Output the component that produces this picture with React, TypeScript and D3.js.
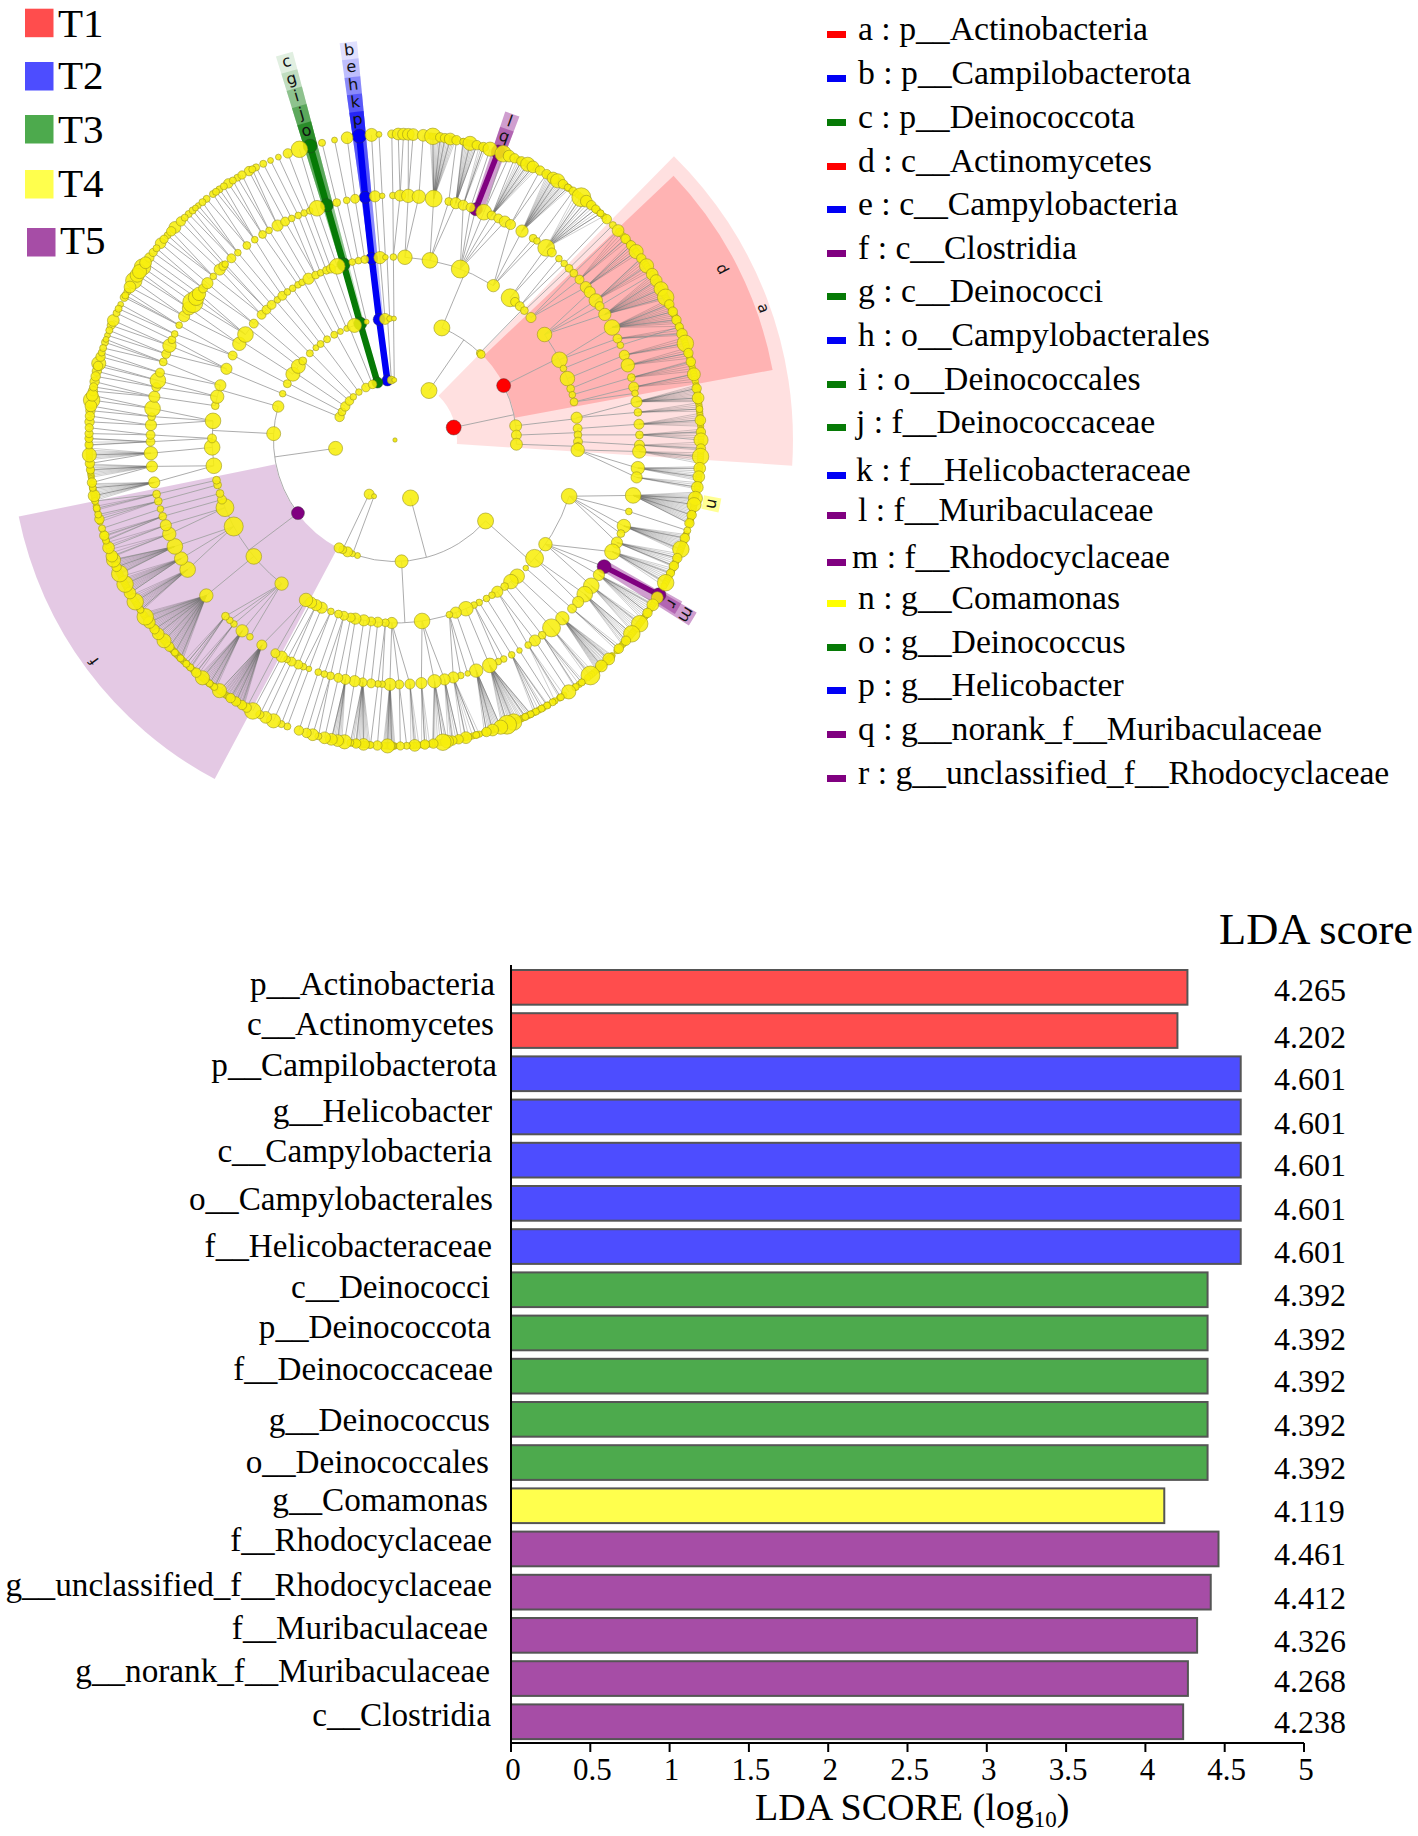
import React from "react";
import * as d3 from "d3";

// ---------- bar chart data ----------
const categories = ["p__Actinobacteria","c__Actinomycetes","p__Campilobacterota","g__Helicobacter","c__Campylobacteria","o__Campylobacterales","f__Helicobacteraceae","c__Deinococci","p__Deinococcota","f__Deinococcaceae","g__Deinococcus","o__Deinococcales","g__Comamonas","f__Rhodocyclaceae","g__unclassified_f__Rhodocyclaceae","f__Muribaculaceae","g__norank_f__Muribaculaceae","c__Clostridia"];
const scores = [4.265,4.202,4.601,4.601,4.601,4.601,4.601,4.392,4.392,4.392,4.392,4.392,4.119,4.461,4.412,4.326,4.268,4.238];
const groupsOfBars = ["T1","T1","T2","T2","T2","T2","T2","T3","T3","T3","T3","T3","T4","T5","T5","T5","T5","T5"];
const treatments = ["T1","T2","T3","T4","T5"];
const xTicks = [0,0.5,1,1.5,2,2.5,3,3.5,4,4.5,5];
const legendEntries = ["a : p__Actinobacteria","b : p__Campilobacterota","c : p__Deinococcota","d : c__Actinomycetes","e : c__Campylobacteria","f : c__Clostridia","g : c__Deinococci","h : o__Campylobacterales","i : o__Deinococcales","j : f__Deinococcaceae","k : f__Helicobacteraceae","l : f__Muribaculaceae","m : f__Rhodocyclaceae","n : g__Comamonas","o : g__Deinococcus","p : g__Helicobacter","q : g__norank_f__Muribaculaceae","r : g__unclassified_f__Rhodocyclaceae"];
const legendGroups = ["T1","T2","T3","T1","T2","T5","T3","T2","T3","T3","T2","T5","T5","T4","T3","T2","T5","T5"];

// ---------- cladogram data: [angle clockwise from north, node radius, parent angle?] ----------
const phyla: number[][] = [[292.6,4.7],[298,4],[304,4.7],[310.6,4.3],[316,3.3],[323,3.3],[331,4.3],[338,4.3],[343,5.5],[352.7,5.5],[356.5,4],[359.3,2.5],[34.5,8],[78,7.5],[165,8],[205.5,5],[200.4,2.5],[262,7]];
const classes: number[][] = [[22.7,8,34.5],[44.3,3.5,34.5],[45.2,4,34.5],[63.4,7,78],[83.3,6,78],[87.7,5,78],[92,6,78],[131.8,8,165],[176.9,6.5,165],[198,3,165],[200.5,3,200.4],[203,5,205.5],[205.5,4,205.5],[207.4,5,205.5],[233,6.5,262],[273,7,262],[286,5.7,262],[292.4,3.3],[297.6,4],[302.8,7],[307.3,7],[310.6,4],[315.5,3.5],[319.4,3],[322.2,3.5],[326,3.5],[330,3.5],[333.3,3],[336.6,3],[340.5,7],[343.4,6.5],[346.5,2.5],[352.5,6],[355.3,5.5],[357.5,3],[359.5,2.5]];
const orders: number[][] = [[359.5,3],[3.1,6.5,22.7],[11,7,22.7],[20.9,8,22.7],[32.5,5.5,22.7],[39,8,44.3],[41,4,44.3],[43,4,44.3],[45,3.5,44.3],[48,4.5,44.3],[54.8,6.5,63.4],[64,7,63.4],[67,3,63.4],[70.4,6.5,63.4],[73.7,3.5,63.4],[75.7,3,63.4],[78,3.5,63.4],[83,5,83.3],[86.4,4,87.7],[88.4,3.5,87.7],[90.5,4,92],[92,3.5,92],[93.1,6,92],[107.9,7,131.8],[124.7,6,131.8],[130.3,8,131.8],[134.4,2.5,131.8],[138.1,6.5,176.9],[140.7,6.5,176.9],[143.2,3.5,176.9],[146,5,176.9],[148,3,176.9],[150,3,176.9],[152.6,3,176.9],[154.4,3,176.9],[157.2,6.5,176.9],[160.6,5,176.9],[162.7,3,176.9],[171.5,7,176.9],[181,5,176.9],[183,3.5,176.9],[185.4,4.5,176.9],[187.5,4,176.9],[189.8,5,176.9],[192.5,5,176.9],[194,4,176.9],[196.2,4,176.9],[198,3.5,176.9],[200.5,3,176.9],[203.6,5,176.9],[205.5,5,176.9],[207.3,5,176.9],[209.1,6,176.9],[218.3,6,233],[230.5,7,233],[241.8,8.5,233],[248.3,8,233],[251,4,233],[253,3.5,233],[255.8,3.5,233],[257.3,3.5,233],[261.9,7,273],[267.7,7,273],[270.5,4,273],[276,7,273],[280.8,3.5,286],[283.7,6,286],[287.4,5,286],[292.9,5],[297.5,4],[301.7,6],[305.2,7],[309.5,4],[313.2,4],[315.4,4],[317.6,4],[320,3],[322,4],[324,3],[326,3],[328,3],[329.5,3],[331.8,5],[334.3,3.5],[336,3],[338,3.5],[339.5,4],[341.6,7],[343.7,6.5],[346.5,3],[348.5,3],[350.5,3.5],[352.7,6],[355.3,5.5],[357,2.5]];
const families: number[][] = [[359.5,3],[1.2,5],[3.1,6],[5.6,6],[9.1,7.5],[12.7,3.5],[14.4,5],[16.2,4.5],[18,4],[19.3,6.5],[21.3,7],[23.3,4],[25,4],[26.7,5],[28.2,4.5],[31.3,5.5],[34.4,3.5],[35.5,3],[38.2,7.5],[39.9,4],[42.1,3],[43.8,3],[45.4,3.5],[47,3.5],[49,4],[51.3,5],[52.8,5],[55.2,6],[56.8,4],[59.1,5.5],[62.6,7],[65.5,4],[67.2,3],[69.7,4.5],[72.2,6],[75.2,3.5],[77.5,4.5],[79,3],[81,5],[83.5,3.5],[86.3,4.5],[88.8,3.5],[91.2,4.5],[92.7,6],[96.6,6],[98.8,5],[103.1,7],[107,3],[110.6,6],[112.5,3.5],[114.8,5],[117.2,7],[121.2,7],[123.5,5],[126.6,7],[129.1,7],[131.5,5],[133.6,4],[136.8,6],[140.2,8],[143,3.5],[145.1,5],[147,3],[149.4,2.5],[151.5,3],[153.6,3],[155,3],[157.2,6.5],[160.6,6],[162.7,2.5],[164.4,3],[166.2,5],[168.3,5],[170.7,6],[173.8,5],[176.5,4.5],[179,4],[181.2,5.5],[183,3],[184,3],[185.6,4],[187.6,4],[189.5,5],[191.7,4.5],[193.4,4],[195.3,3.5],[196.8,3],[198.3,3],[200.6,2.5],[202,3],[203.3,4],[205,4],[206.2,3],[207.6,5],[209.3,4],[213,4.5],[216.4,3],[218.7,5.5],[221.2,3],[222.5,3],[223.9,3.5],[230.5,6],[238,7],[241,6],[244.2,7],[247.4,6],[249.6,5],[251.8,3.5],[253.6,3],[255.5,3.5],[257.2,3.5],[260,5],[263.8,5],[266.9,6],[269.6,4],[271.2,4],[273.5,5],[275.5,3.5],[277.4,7],[280.2,5],[282.5,4],[284.1,7],[286,4],[288.6,3.5],[290.6,4],[292.7,6],[294.2,3.5],[295.7,3],[298,3],[300.4,5],[302.6,6],[304.2,9],[305.6,7],[306.7,6],[308.3,4],[309.9,5],[312,3],[314.2,5],[315.4,4],[316,3],[318,4],[320,3],[322.7,3.5],[325,3],[327.2,3.5],[329,3],[331.3,5],[333.3,4],[335,3],[336.7,3],[338.2,3],[339.6,3],[341.4,7],[343.8,6.5],[346.2,3.5],[348.6,3],[350.6,4],[353,6],[355.3,5],[357,2.5]];
const genera: number[][] = [[359.4,3.5],[0.6,5],[1.6,5],[2.5,5],[3.4,5],[5.3,5],[7.1,7],[8.5,4],[9.4,4],[10.4,5],[11.6,4],[12.9,3],[14.2,6],[15.5,4],[16.8,4],[18.1,6],[19.7,7],[20.7,7],[21.9,5],[23,4],[24.4,4],[25.7,6],[26.8,5],[28.3,4],[29.7,4],[31.1,5],[32.1,6],[33.3,4],[34.4,3],[35.6,3.5],[37.5,8],[38.7,5],[39.9,4],[41,3.5],[42.2,3],[43.8,4],[45.4,3],[46.8,5],[48.9,4],[50.5,4],[52,6],[53.6,4],[55.3,6],[57.2,5],[58.6,5],[60.4,6],[62.2,7],[63.7,4],[65.2,4],[66.9,4],[68.3,3.5],[69.7,4.5],[71.6,7],[73.5,4],[75.2,4],[77.6,5.5],[80.3,4],[82.1,5],[84.2,3],[86.3,4.5],[88.5,4],[90,6],[91.6,4],[93.1,7],[95.3,5],[96.9,5],[98.9,5],[101,6],[102.2,6],[104.2,4],[105.8,4],[107.2,3],[108.7,4],[110.9,7],[112.7,4],[114.3,4],[115.8,3.5],[117.8,7],[120.4,7],[121,5],[122.6,5],[124.4,4],[126.9,7],[129.3,7],[131,4],[133,4],[135.7,5],[137.6,5],[140.3,8],[142.4,3],[143.8,3],[145.4,6],[147.2,3],[149,3],[150.2,3],[151.4,3],[152.6,3],[153.7,3],[154.8,3],[157.2,7],[158.5,8],[159.8,6],[161.4,5],[162.6,4],[164.6,3],[166.6,5],[168,4],[169.2,4],[170.2,5.5],[171,7],[172.8,4],[174.4,4],[176.3,5],[177.8,3],[179,3.5],[180.6,3.5],[181.4,6],[183.3,4],[184.6,3],[185.9,5],[187.3,4],[188.4,3],[189.5,6],[190.8,5],[192,5],[193.3,5],[194.5,3],[195.6,5],[196.8,4],[198.3,4],[200.6,3],[201.8,3],[203.4,6],[205,5],[206.2,3.5],[207.7,7],[209,4],[210,4],[211.3,4],[212.5,4],[215,6],[216.2,3],[217.3,3],[219,6],[220.5,4],[222,3],[223,3],[224.5,3],[226,3],[227.5,4],[229,6],[230.7,5],[231.8,4],[233.4,5],[234.7,7],[236.3,3],[238.1,7],[240,5],[241.9,7],[244.1,7],[245.5,4],[246.9,6],[247.7,5],[249.4,5],[250.8,3],[251.8,4],[253.2,3],[255,4],[255.9,3],[257.1,3],[258.5,3],[259.5,5],[261,3],[262,4],[264.4,3.5],[265.6,4],[267.2,6],[269.1,3.5],[270.3,3.5],[271.2,3.5],[273.4,4],[275.5,4],[277.5,7],[279.2,4],[281,4],[283,4],[284.5,6],[285.8,4],[288.6,3],[290,2.5],[292,3.5],[293,5],[296.3,2.5],[299,3],[301.4,7],[304.4,7],[306.6,4],[310,4.5],[312,3],[314,5],[315.6,4],[317.6,3],[320,2.5],[322,3],[323.5,3],[325,3],[327,4],[329,3],[331.5,4],[333,3],[334.5,3],[336,2.5],[337.6,2.5],[339.5,4],[341.8,7],[343.9,7],[346.2,3],[348.6,2.5],[351,5],[353.3,7],[355.6,5.5],[357,2.5]];
const generaUpperLeft: number[][] = [[272.3,3.5],[274.5,4],[276.4,5],[278.4,5],[280,3.5],[282,4],[284,4],[286.6,3],[287.5,3],[289.2,2.5],[291,3],[294.5,3],[295.4,3],[297.8,3.5],[298.2,3],[300,5],[302.6,6],[303.4,6],[305.4,5],[307.8,3.5],[308.8,3],[311,3.5],[313,4],[316.6,3],[318.6,3],[319.3,2.5],[321,3],[324.2,3],[326,3],[328,3],[330,3.5],[332.2,3]];

// fans: [family angle, [genus angles]]
const genusFans: [number, number[]][] = [
[9.1,[6.6,6.9,7.2,7.5,7.8,8.1,8.4,8.7,9,9.3,9.6,9.9,10.2,10.5,10.8,11.1,11.4]],
[14.4,[12.8,13.1,13.4,13.7,14,14.3,14.6,14.9,15.2,15.5]],
[16.2,[16,16.4,16.8,17.2]],
[23.3,[23.6,24,24.4,24.8,25.2,25.6,26,26.4,26.8,27.2,27.6]],
[31.3,[29.8,30.1,30.4,30.7,31,31.3,31.6,31.9,32.2,32.5,32.8,33.1,33.4,33.7,34,34.4,34.8]],
[38.2,[36.2,36.8,37.4,38,38.6,39.2,39.8,40.4,41,41.6,42.2,43]],
[49,[47,47.6,48.2,48.8,49.4]],
[51.3,[50,50.5,51,51.5,52,52.5]],
[55.2,[53.5,54,54.5,55,55.5,56,56.5]],
[59.1,[57.3,57.7,58.1,58.5,58.9,59.3,59.7,60.1,60.5,60.9,61.3,61.7,62.1,62.5]],
[62.6,[62.8,63.2,63.6,64,64.4,64.8,65.2,65.6,66,66.4,66.8,67.2,67.6,68.2]],
[65.5,[68.5,69,69.5,70]],
[69.7,[70.5,71,71.5,72]],
[72.2,[72.5,73,73.5,74,74.5]],
[75.2,[75,75.5,76,76.5,77]],
[77.5,[77.5,78,78.5,79]],
[81,[79.7,80,80.3,80.6,80.9,81.2,81.5,81.8,82.1,82.4,82.6,82.8]],
[83.5,[83,83.4,83.8,84.2,84.6]],
[86.3,[85,85.4,85.8,86.2,86.6,87,87.4]],
[88.8,[88,88.4,88.8,89.2,89.6]],
[91.2,[90.4,90.9,91.4,91.9]],
[92.7,[92.4,92.8,93.2,93.6,94,94.4]],
[96.6,[95,95.4,95.8,96.2,96.6,97,97.3,97.6]],
[98.8,[98,98.4,98.8,99.2]],
[103.1,[99.8,100.1,100.4,100.7,101,101.3,101.6,101.9,102.2,102.5,102.8,103.1,103.4,103.7,104,104.3,104.6,104.9,105.2,105.5,105.9]],
[110.6,[108,108.3,108.6,108.9,109.2,109.5,109.8,110.1,110.4,110.7,111,111.2,111.5]],
[114.8,[111.8,112.2,112.6,113,113.4,113.8,114.2,114.5]],
[117.2,[114.8,115.2,115.6,116,116.4,116.8,117.2,117.6,118,118.5]],
[123.5,[122,122.4,122.8,123.2,123.6,124,124.4,124.8,125.2,125.6,126]],
[126.6,[126.3,126.7,127.1,127.5,127.9,128.3,128.7,129]],
[129.1,[129.3,129.7,130.1,130.5,130.9,131.3,131.7,132]],
[133.6,[132.5,133,133.5]],
[136.8,[134.8,135,135.3,135.5,135.8,136,136.3,136.5,136.8,137,137.3,137.5,137.8,138,138.2,138.4,138.6,138.8]],
[140.2,[139.5,140,140.5,141]],
[143,[142,143,144]],
[147,[146.5,147.5,148.5]],
[151.5,[150,151,152,153]],
[157.2,[153.6,154,154.3,154.7,155,155.4,155.7,156,156.4,156.7,157,157.4,157.7,158,158.4,158.8,159.2,159.5]],
[160.6,[159.8,160.1,160.4,160.7,161,161.3,161.6,161.9,162.2,162.6,163]],
[166.2,[164,164.6,165.3,166,166.7,167.4]],
[168.3,[168,168.5,169,169.5,170]],
[170.7,[170.5,171,171.5,172,172.5,173]],
[173.8,[173.5,174,174.5,175]],
[176.5,[175.5,176,176.5,177]],
[181.2,[180,180.2,180.4,180.6,180.8,181,181.2,181.4,181.6,181.8,182,182.2]],
[187.6,[184.7,185,185.3,185.6,185.9,186.2,186.5,186.8,187.1,187.4,187.8,188.1]],
[191.7,[190,190.3,190.6,190.9,191.2,191.5,191.8,192]],
[213,[209.6,209.8,210.1,210.3,210.6,210.8,211.1,211.3,211.6,211.8,212.1,212.3,212.6,212.8,213.1,213.3,213.6,213.8,214.1,214.3,214.6,215]],
[218.7,[215.8,216.1,216.4,216.7,217,217.3,217.6,217.9,218.2,218.5,218.8,219.1,219.4,219.7]],
[221.2,[220,220.6,221.2]],
[223.9,[221.8,222.4,223,223.6]],
[230.5,[224,224.3,224.6,224.9,225.2,225.5,225.8,226.1,226.4,226.7,227,227.3,227.6,227.9,228.2,228.5,228.8,229.1,229.4,229.7,230,230.3,230.6,230.9,231.2,231.5,231.8,232.1,232.4,232.7,233,233.3,233.6,233.9,234.2,234.5,234.9,235.2,235.5]],
[238,[236,236.3,236.6,236.9,237.2,237.5,237.8,238.1,238.4,238.7,239.1,239.5]],
[241,[240,240.3,240.6,240.9,241.2,241.5,241.8,242.1,242.4,242.7,243,243.5]],
[244.2,[244,244.3,244.6,244.9,245.2,245.5,245.8,246.1,246.4,246.7,247]],
[247.4,[247.5,248.3,249]],
[249.6,[249.8,250.4]],
[251.8,[251,251.6,252.2]],
[255.5,[254.5,255.5]],
[257.2,[256.8,257.5]],
[260,[258.6,258.9,259.2,259.5,259.8,260.1,260.4,260.7,261,261.3,261.6,261.8]],
[263.8,[263,263.3,263.6,263.9,264.2,264.5,264.8,265.1,265.3,265.5]],
[266.9,[266.3,266.6,266.9,267.2,267.5,267.8,268.1,268.5]],
[269.6,[269,269.6,270.2]],
];

// coloured clades: [level (1..5), angle, treatment]
const biomarkers: [number, number, string][] = [[1,78,"T1"],[2,63.4,"T1"],[1,352.7,"T2"],[2,352.5,"T2"],[3,352.7,"T2"],[4,353,"T2"],[5,353.3,"T2"],[1,343,"T3"],[2,343.4,"T3"],[3,343.7,"T3"],[4,343.8,"T3"],[5,343.9,"T3"],[2,233,"T5"],[4,19.3,"T5"],[5,19.7,"T5"],[4,121.2,"T5"],[5,120.4,"T5"]];
const strongPaths: [string, number[]][] = [["T2",[352.7,352.5,352.7,353,353.3]],["T3",[343,343.4,343.7,343.8,343.9]]];
const shortPaths: [string, number, number][] = [["T5",19.3,19.7],["T5",121.2,120.4]];
// letters stacked outward: [letter, level, centre angle, label radius]
const stripLabels: [string, number, number, number, string][] = [
["c",1,344,393,"T3"],["g",2,344,375,"T3"],["i",3,344,357,"T3"],["j",4,344,339,"T3"],["o",5,344,321,"T3"],
["b",1,353.3,392,"T2"],["e",2,353.3,375,"T2"],["h",3,353.3,357,"T2"],["k",4,353.3,339.5,"T2"],["p",5,353.3,322,"T2"],
["l",4,19.8,338,"T5"],["q",5,19.8,322,"T5"],["m",4,121,339,"T5"],["r",5,120.6,321,"T5"],["n",5,101.4,323,"T6"]];
const wedges: [number, number, number, number, string, string, number, number][] = [
[44.5,93.7,62,398,"T1","a",391,70.3],[46.5,79.5,122,384,"T1","d",369,62.4],[208,258.5,122,384,"T5","f",373,233.7]];

// ---------- layout & style ----------
const W = 1418, H = 1836, CX = 395, CY = 440;
const fillColor: Record<string,string> = {T1:"#ff4d4d",T2:"#4d4dff",T3:"#4daa4d",T4:"#ffff4d",T5:"#a64da6"};
const nodeColor: Record<string,string> = {T1:"#ff0000",T2:"#0000f5",T3:"#067a06",T4:"#ffff00",T5:"#800080",T6:"#ffff00"};
const legendTop = [8.7,62,115,170,228];
const legendMarkX = [25,25,25,25,27];
const legendTextBase = [37,89,143,197,254];
const legendBase = [40,84,128,172,215,259,302,346,390,433,481,521,568,609,653,696,740,784];
const legendTextX = [858,858,858,858,858,858,858,858,858,856,856,858,852,858,858,858,858,858];
const labelBase = [994.6,1034.9,1076.3,1121.5,1162.3,1209.9,1256.8,1298.3,1337.9,1380,1430.6,1473.3,1510.5,1551.3,1595.9,1639.1,1682.4,1726.3];
const labelRight = [495,494,497,492,492,493,492,490,491,493,490,489,488,492,492,488,490,491];
const valueBase = [1000.8,1047.7,1090.4,1133.7,1176.4,1220.3,1263,1305.6,1349.5,1392.2,1435.5,1478.8,1522,1565.4,1608.7,1652,1692.2,1732.5];
const serif = "'Liberation Serif', serif";
const sans = "'DejaVu Sans', sans-serif";

const rad = d3.scaleLinear().domain([0,360]).range([0,2*Math.PI]);
const levelR = d3.scaleLinear().domain([1,5]).range([60,306]);
const x = d3.scaleLinear().domain([0,5]).range([511,1304]);
const y = d3.scaleBand<string>().domain(categories).range([970,1739.1]).paddingInner(0.197).paddingOuter(0);

const polar = (r:number,a:number):[number,number] => [CX + r*Math.sin(rad(a)), CY - r*Math.cos(rad(a))];
const circ = (a:number,b:number) => { const d=Math.abs(a-b)%360; return d>180?360-d:d; };
const nearest = (list:number[][],a:number) => d3.least(list,p=>circ(p[0],a))![0];
const arcLine = (r:number,a0:number,a1:number) => { const p=d3.path(); p.arc(CX,CY,r,rad(a0)-Math.PI/2,rad(a1)-Math.PI/2); return p.toString(); };
const segment = d3.line();
const allGenera = [...genera,...generaUpperLeft];

function App(){
  const thin: string[] = [];
  const hair: string[] = [];
  ([[phyla,classes,2],[classes,orders,3]] as [number[][],number[][],number][]).forEach(([inner,outer,lvl])=>{
    const r=levelR(lvl), r0=levelR(lvl-1);
    inner.forEach(p=>{
      const kids=outer.filter(c=>(c.length>2?c[2]:nearest(inner,c[0]))===p[0]);
      if(!kids.length) return;
      thin.push(segment([polar(r0,p[0]),polar(r,p[0])])!);
      const ext=d3.extent([...kids.map(k=>k[0]),p[0]]) as [number,number];
      if(ext[1]>ext[0]) thin.push(arcLine(r,ext[0],ext[1]));
    });
  });
  families.forEach(f=>thin.push(segment([polar(levelR(3),nearest(orders,f[0])),polar(levelR(4),f[0])])!));
  const fanOf=(a:number)=>genusFans.find(([,l])=>a>=d3.min(l)!&&a<=d3.max(l)!);
  allGenera.forEach(g=>{
    const fan=fanOf(g[0]);
    thin.push(segment([polar(levelR(4),fan?fan[0]:nearest(families,g[0])),polar(levelR(5),g[0])])!);
  });
  genusFans.forEach(([fam,leaves])=>leaves.forEach(a=>hair.push(segment([polar(levelR(4),fam),polar(levelR(5),a)])!)));

  const isMarker=(lvl:number,a:number)=>biomarkers.some(b=>b[0]===lvl&&b[1]===a);
  const levels:[number[][],number][]=[[phyla,1],[classes,2],[orders,3],[families,4],[allGenera,5]];
  const sizeOf=(lvl:number,a:number)=>(levels[lvl-1][0].find(n=>n[0]===a)||[a,5])[1];
  const grow=(lvl:number)=>lvl===5?1.18:lvl>2?1.12:1;
  const wedge=d3.arc<any>();

  return (
    <svg width={W} height={H} viewBox={`0 0 ${W} ${H}`} style={{position:"absolute",left:0,top:0,background:"#fff"}}>
      {wedges.map(([a0,a1,r0,r1,t],i)=>(
        <path key={i} transform={`translate(${CX},${CY})`} fill={t==="T1"?"#ff0000":"#800080"} fillOpacity={t==="T5"?0.21:i===0?0.12:0.2}
          d={wedge({innerRadius:r0,outerRadius:r1,startAngle:rad(a0),endAngle:rad(a1)})!}/>
      ))}
      {wedges.map(([,,,,,l,r,a],i)=>{const [px,py]=polar(r,a);return (
        <text key={i} transform={`translate(${px},${py}) rotate(${a})`} textAnchor="middle" dominantBaseline="middle" fontFamily={sans} fontSize={15} fill="#111">{l}</text>
      );})}
      {stripLabels.map(([l,lvl,a,lr,t],i)=>{
        const halfA=1.25;
        const top=lr+8.5;
        const alpha=(t==="T2"||t==="T3")?[0.12,0.15,0.27,0.36,0.57][lvl-1]:lvl===4?0.38:0.36;
        const r0=t==="T6"?314:levelR(lvl);
        return <path key={i} transform={`translate(${CX},${CY})`} fill={t==="T6"?"#ffff66":nodeColor[t]} fillOpacity={t==="T6"?0.7:alpha}
          d={wedge({innerRadius:r0,outerRadius:top,startAngle:rad(a-halfA),endAngle:rad(a+halfA)})!}/>;
      })}
      <g fill="none">
        {thin.map((d,i)=><path key={i} d={d} stroke="#a3a3a3" strokeWidth={0.9}/>)}
        {hair.map((d,i)=><path key={i} d={d} stroke="#666" strokeWidth={0.32}/>)}
      </g>
      {strongPaths.map(([t,as],i)=>(
        <path key={i} fill="none" stroke={nodeColor[t]} strokeWidth={6.5} strokeLinejoin="round" d={segment(as.map((a,j)=>polar(levelR(j+1),a)))!}/>
      ))}
      {shortPaths.map(([t,a,b],i)=>(
        <path key={i} fill="none" stroke={nodeColor[t]} strokeWidth={5.5} d={segment([polar(levelR(4),a),polar(levelR(5),b)])!}/>
      ))}
      {biomarkers.map(([lvl,a,t],i)=>{const [px,py]=polar(levelR(lvl),a);return (
        <circle key={i} cx={px} cy={py} r={sizeOf(lvl,a)} fill={nodeColor[t]} stroke="#333" strokeWidth={0.4}/>
      );})}
      <circle cx={CX} cy={CY} r={2.2} fill="#f0e81a" stroke="#8f8a20" strokeWidth={0.5}/>
      {genusFans.map(([fam,leaves])=>leaves.map(a=>{const [px,py]=polar(levelR(5),a);return (
        <circle key={fam+"-"+a} cx={px} cy={py} r={3.2} fill="#f7ee0c" stroke="#9a9420" strokeWidth={0.5}/>
      );}))}
      {levels.map(([list,lvl])=>list.filter(n=>!isMarker(lvl,n[0])).map(n=>{const [px,py]=polar(levelR(lvl),n[0]);return (
        <circle key={lvl+"-"+n[0]} cx={px} cy={py} r={n[1]*grow(lvl)} fill="#f7ee0c" fillOpacity={0.88} stroke="#9a9420" strokeWidth={0.6}/>
      );}))}
      {stripLabels.map(([l,,a,lr],i)=>{const [px,py]=polar(lr,a);return (
        <text key={i} transform={`translate(${px},${py}) rotate(${a})`} textAnchor="middle" dominantBaseline="middle" fontFamily={sans} fontSize={16} fill="#111">{l}</text>
      );})}

      {treatments.map((t,i)=>(
        <g key={t}>
          <rect x={legendMarkX[i]} y={legendTop[i]} width={28.5} height={28.5} fill={fillColor[t]}/>
          <text x={legendMarkX[i]+33} y={legendTextBase[i]} fontFamily={serif} fontSize={41} fill="#000">{t}</text>
        </g>
      ))}
      {legendEntries.map((s,i)=>(
        <g key={s}>
          <rect x={827} y={legendBase[i]-9} width={19} height={7} fill={nodeColor[legendGroups[i]]}/>
          <text x={legendTextX[i]} y={legendBase[i]} fontFamily={serif} fontSize={33.7} fill="#000">{s}</text>
        </g>
      ))}

      {categories.map((c,i)=>(
        <g key={c}>
          <rect x={x(0)} y={y(c)} width={x(scores[i])-x(0)} height={y.bandwidth()} fill={fillColor[groupsOfBars[i]]} stroke="#555" strokeWidth={2}/>
          <text x={labelRight[i]} y={labelBase[i]} textAnchor="end" fontFamily={serif} fontSize={33.2} fill="#000">{c}</text>
          <text x={1274} y={valueBase[i]} fontFamily={serif} fontSize={32} fill="#000">{scores[i].toFixed(3)}</text>
        </g>
      ))}
      <line x1={x(0)} x2={x(0)} y1={965} y2={1743} stroke="#000" strokeWidth={2}/>
      <line x1={x(0)} x2={x(5)} y1={1743} y2={1743} stroke="#000" strokeWidth={2}/>
      {xTicks.map(t=>(
        <g key={t}>
          <line x1={x(t)} x2={x(t)} y1={1743} y2={1752} stroke="#000" strokeWidth={2}/>
          <text x={x(t)+2} y={1780} textAnchor="middle" fontFamily={serif} fontSize={31} fill="#000">{t}</text>
        </g>
      ))}
      <text x={1219} y={944} fontFamily={serif} fontSize={44.5} fill="#000">LDA score</text>
      <text x={755} y={1820} fontFamily={serif} fontSize={38} fill="#000">LDA SCORE (log<tspan dy={7} fontSize={23}>10</tspan><tspan dy={-7}>)</tspan></text>
    </svg>
  );
}
export default App;
